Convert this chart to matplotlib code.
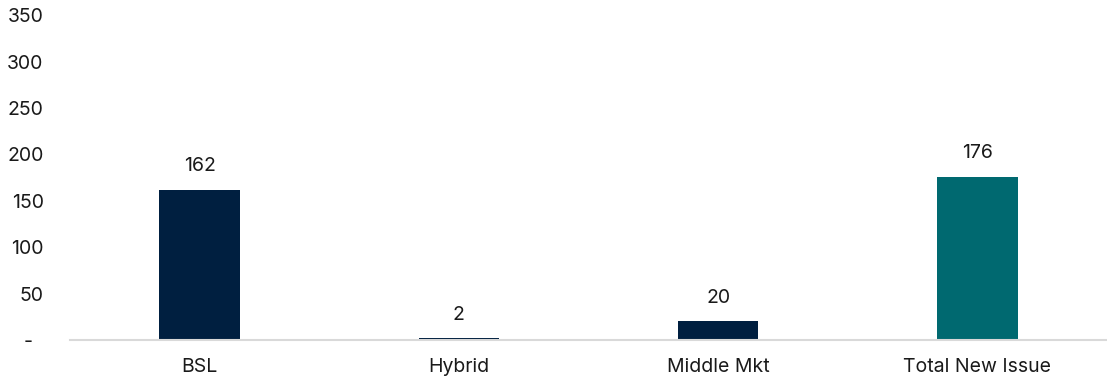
import matplotlib
matplotlib.use("Agg")
import matplotlib.pyplot as plt

categories = ["BSL", "Hybrid", "Middle Mkt", "Total New Issue"]
values = [162, 2, 20, 176]
colors = ["#001F40", "#001F40", "#001F40", "#006970"]
yticks = [0, 50, 100, 150, 200, 250, 300, 350]
ytick_labels = ["-  ", "50", "100", "150", "200", "250", "300", "350"]

plt.rcParams['font.family'] = ['Inter', 'DejaVu Sans']

fig = plt.figure(figsize=(11.07, 3.78), dpi=100)
ax = fig.add_axes([0.0632, 0.1005, 0.9368, 0.8595])

x = range(len(categories))
bars = ax.bar(x, values, width=0.31, color=colors)
for xi, v in zip(x, values):
    ax.annotate(f"{v}", (xi, v), xytext=(0, 10.5), textcoords="offset points",
                ha="center", va="bottom", fontsize=14, color="#1a1a1a")

ax.set_xlim(-0.5, 3.5)
ax.set_ylim(0, 350)
ax.set_yticks(yticks)
ax.set_yticklabels(ytick_labels)
ax.set_xticks(list(x))
ax.set_xticklabels(categories)
ax.tick_params(axis="y", length=0, pad=19, labelsize=14, labelcolor="#1a1a1a")
ax.tick_params(axis="x", length=0, pad=13, labelsize=14, labelcolor="#1a1a1a")
for s in ["top", "right", "left"]:
    ax.spines[s].set_visible(False)
ax.spines["bottom"].set_color("#D9D9D9")
ax.spines["bottom"].set_linewidth(1.5)

fig.savefig("out.png", dpi=100)
